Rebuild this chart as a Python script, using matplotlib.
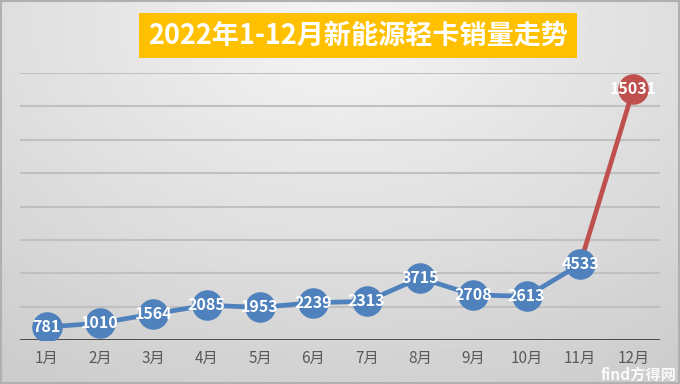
import matplotlib.pyplot as plt
import numpy as np

plt.rcParams['font.family'] = ['Noto Sans CJK SC', 'DejaVu Sans']

months = ['1月', '2月', '3月', '4月', '5月', '6月', '7月', '8月', '9月', '10月', '11月', '12月']
sales = [781, 1010, 1564, 2085, 1953, 2239, 2313, 3715, 2708, 2613, 4533, 15031]
title = '2022年1-12月新能源轻卡销量走势'

W, H = 680, 384
fig = plt.figure(figsize=(W / 100, H / 100), dpi=100)

# background gradient
bg = fig.add_axes([0, 0, 1, 1])
yy, xx = np.mgrid[0:1:200j, 0:1:300j]
r = np.sqrt(((xx - 0.5) / 0.9) ** 2 + ((yy - 0.05) / 1.1) ** 2)
shade = 0.96 - 0.16 * np.clip(r, 0, 1)
bg.imshow(shade, cmap='gray', vmin=0, vmax=1, extent=[0, 1, 0, 1],
          aspect='auto', origin='upper')
bg.add_patch(plt.Rectangle((0.001, 0.002), 0.997, 0.995, fill=False,
                           ec='#b0b0b0', lw=1.5))
bg.set_xlim(0, 1)
bg.set_ylim(0, 1)
bg.axis('off')

# plot area: x 20..660 px, y 73..340 px (from top)
ax = fig.add_axes([20 / W, 1 - 340 / H, 640 / W, 267 / H])
ax.patch.set_alpha(0)
x = np.arange(len(months)) + 0.5
ax.set_xlim(0, 12)
ax.set_ylim(0, 16000)
for g in range(2000, 16001, 2000):
    ax.axhline(g, color='#c0c0c0', lw=1.5, zorder=1)
ax.axhline(0, color='#404040', lw=2, zorder=2)

blue = '#4f81bd'
red = '#c0504d'
ax.plot(x[:-1], sales[:-1], color=blue, lw=3.4, zorder=3, solid_capstyle='round')
ax.plot(x[-2:], sales[-2:], color=red, lw=3.4, zorder=3)
ax.scatter(x[:-1], sales[:-1], s=22 ** 2, color=blue, zorder=4, lw=0)
ax.scatter(x[-1:], sales[-1:], s=22 ** 2, color=red, zorder=4, lw=0)
for xi, v in zip(x, sales):
    ax.text(xi, v, str(v), color='white', fontsize=11.5, fontweight='bold',
            ha='center', va='center', zorder=5)

ax.set_xticks(x)
ax.set_xticklabels(months, color='#595959', fontsize=11)
ax.tick_params(axis='x', length=0, pad=7)
ax.set_yticks([])
for s in ax.spines.values():
    s.set_visible(False)

fig.text(358 / W, 1 - 35.5 / H, title, ha='center', va='center', color='white',
         fontsize=19.5, fontweight='bold',
         bbox=dict(boxstyle='square,pad=0.33', fc='#ffc000', ec='none'))

fig.text(0.995, 0.003, 'find方得网', ha='right', va='bottom', color='white',
         fontsize=11, fontweight='bold', alpha=0.9)

fig.savefig('out.png', dpi=100)
